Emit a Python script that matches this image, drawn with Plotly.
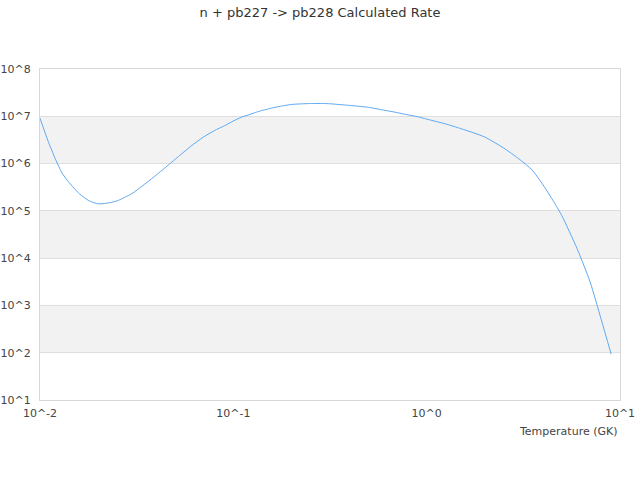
import plotly.graph_objects as go

temperature = [0.01, 0.011, 0.012, 0.013, 0.014, 0.015, 0.016, 0.018, 0.02, 0.022, 0.025,
               0.03, 0.04, 0.05, 0.06, 0.07, 0.08, 0.09, 0.1, 0.11, 0.12, 0.13,
               0.14, 0.15, 0.16, 0.18, 0.2, 0.25, 0.3, 0.35, 0.4, 0.45, 0.5, 0.6,
               0.7, 0.8, 0.9, 1.0, 1.25, 1.5, 1.75, 2.0, 2.5, 3.0, 3.5, 4.0, 4.5,
               5.0, 6.0, 7.0, 8.0, 9.0]
log_rate = [6.96, 6.48, 6.10, 5.80, 5.62, 5.48, 5.36, 5.21, 5.15, 5.16, 5.21,
            5.37, 5.76, 6.09, 6.36, 6.56, 6.70, 6.80, 6.90, 6.98, 7.03, 7.08,
            7.12, 7.15, 7.18, 7.22, 7.25, 7.27, 7.27, 7.25, 7.23, 7.21, 7.19, 7.13,
            7.08, 7.03, 6.99, 6.94, 6.84, 6.74, 6.65, 6.56, 6.33, 6.10, 5.87, 5.55, 5.22,
            4.90, 4.20, 3.50, 2.70, 1.97]
rate = [10 ** v for v in log_rate]

x_tickvals = [0.01, 0.1, 1, 10]
x_ticktext = ["10^-2", "10^-1", "10^0", "10^1"]
y_tickvals = [10, 100, 1e3, 1e4, 1e5, 1e6, 1e7, 1e8]
y_ticktext = ["10^1", "10^2", "10^3", "10^4", "10^5", "10^6", "10^7", "10^8"]
band_ranges = [(100, 1e3), (1e4, 1e5), (1e6, 1e7)]

fig = go.Figure()
fig.add_trace(go.Scatter(x=temperature, y=rate, mode="lines",
                         line=dict(color="#5ea9f2", width=1, shape="spline", smoothing=0.6),
                         showlegend=False, hoverinfo="x+y"))

shapes = []
for lo, hi in band_ranges:
    shapes.append(dict(type="rect", xref="paper", yref="y", x0=0, x1=1, y0=lo, y1=hi,
                       fillcolor="#f2f2f2", line=dict(width=0), layer="below"))

font = "DejaVu Sans, Verdana, sans-serif"
fig.update_layout(
    width=640, height=480,
    margin=dict(l=40, r=20, t=69, b=80, autoexpand=False),
    paper_bgcolor="white", plot_bgcolor="white",
    font=dict(family=font, size=11, color="#444"),
    title=dict(text="n + pb227 -> pb228 Calculated Rate", x=0.5, xanchor="center",
               y=0.975, yanchor="middle", font=dict(size=13, color="#333", family=font)),
    shapes=shapes,
    xaxis=dict(type="log", range=[-2, 1], tickvals=x_tickvals, ticktext=x_ticktext,
               showgrid=False, zeroline=False, showline=True, linecolor="#d8d8d8",
               mirror=True, ticks="", automargin=False, ticklabelstandoff=3,
               tickfont=dict(size=11, color="#444")),
    yaxis=dict(type="log", range=[1, 8], tickvals=y_tickvals, ticktext=y_ticktext,
               showgrid=True, gridcolor="#dedede", zeroline=False, showline=True,
               linecolor="#d8d8d8", mirror=True, ticks="", automargin=False,
               ticklabelstandoff=6, tickfont=dict(size=11, color="#444")),
    annotations=[dict(text="Temperature (GK)", xref="paper", yref="paper", x=1, y=-0.094,
                      xanchor="right", yanchor="middle", showarrow=False,
                      font=dict(size=11, color="#444", family=font))],
)

fig.write_html("out.html", config={"displayModeBar": False},
               post_script="document.body.style.margin='0';document.body.style.overflow='hidden';")
